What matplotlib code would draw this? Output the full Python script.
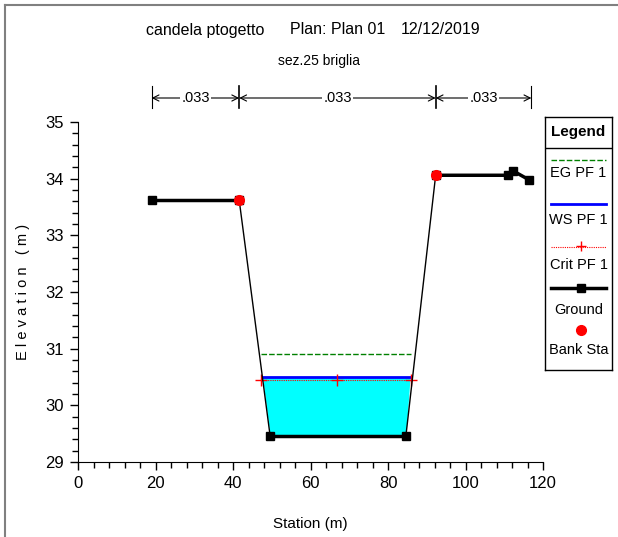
import matplotlib
matplotlib.use('Agg')
import matplotlib.pyplot as plt
from matplotlib import rcParams, ticker
from matplotlib.lines import Line2D

rcParams["font.family"] = ["Liberation Sans Narrow", "Liberation Sans", "DejaVu Sans"]
rcParams["font.size"] = 11

# cross-section data (station m, elevation m)
ground_sta = [19.0, 41.6, 49.6, 84.6, 92.3, 111.0, 112.2, 116.4]
ground_elev = [33.62, 33.62, 29.45, 29.45, 34.06, 34.06, 34.14, 33.98]
bank_sta = [41.6, 92.3]
bank_elev = [33.62, 34.06]

ws_elev = 30.50
ws_left, ws_right = 47.6, 85.7
crit_elev = 30.45
crit_sta = [47.3, 66.8, 86.0]
eg_elev = 30.90
eg_left, eg_right = 47.2, 86.0

n_breaks = [19.0, 41.6, 92.3, 117.0]
n_values = ['.033', '.033', '.033']

xticks = [0, 20, 40, 60, 80, 100, 120]
yticks = [29, 30, 31, 32, 33, 34, 35]

fig = plt.figure(figsize=(6.18, 5.37), dpi=100)
ax = fig.add_axes([78 / 618, 1 - 462 / 537, 465 / 618, 340 / 537])

# water fill between ground and WS
ax.fill_between([ws_left, ground_sta[2], ground_sta[3], ws_right],
                [ws_elev] * 4,
                [ws_elev, ground_elev[2], ground_elev[3], ws_elev],
                color='#00ffff', zorder=1, lw=0)

ax.plot([eg_left, eg_right], [eg_elev, eg_elev], color='green', lw=1, ls=(0, (4, 1.5)), zorder=3)
ax.plot([ws_left, ws_right], [ws_elev, ws_elev], color='blue', lw=2, zorder=3)
ax.plot(crit_sta, [crit_elev] * len(crit_sta), color='red', lw=0.8, ls=(0, (1, 1)),
        marker='+', ms=9, mew=1, zorder=4)

# ground: thin slopes, thick flat parts
ax.plot(ground_sta, ground_elev, color='black', lw=1, zorder=5)
ax.plot(ground_sta[0:2], ground_elev[0:2], color='black', lw=2.5, zorder=5)
ax.plot(ground_sta[2:4], ground_elev[2:4], color='black', lw=2.5, zorder=5)
ax.plot(ground_sta[4:], ground_elev[4:], color='black', lw=2.5, zorder=5)
ax.plot(ground_sta, ground_elev, ls='none', marker='s', ms=5.5, color='black', zorder=6)
ax.plot(bank_sta, bank_elev, ls='none', marker='o', ms=7, color='red', zorder=7)

ax.set_xlim(0, 120)
ax.set_ylim(29, 35)
ax.set_xticks(xticks)
ax.set_yticks(yticks)
ax.xaxis.set_minor_locator(ticker.MultipleLocator(4))
ax.yaxis.set_minor_locator(ticker.MultipleLocator(0.2))
ax.tick_params(which='major', length=6, width=1, direction='out', labelsize=12, pad=4)
ax.tick_params(which='minor', length=4, width=1, direction='out')
for s in ['top', 'right']:
    ax.spines[s].set_visible(False)
ax.set_xlabel('Station (m)', fontsize=11, labelpad=19)
ax.set_ylabel('E l e v a t i o n   ( m )', fontsize=10.5)
ax.yaxis.set_label_coords(-0.104, 0.5)

# Manning's n bars
tr = ax.get_xaxis_transform()
y_arrow = 1 + 24 / 340
for s in n_breaks:
    ax.add_line(Line2D([s, s], [1 + 14 / 340, 1 + 36 / 340], transform=tr, color='black',
                       lw=1.2 if s in n_breaks[1:3] else 0.8, clip_on=False))
for i, txt in enumerate(n_values):
    a, b = n_breaks[i], n_breaks[i + 1]
    mid = (a + b) / 2
    ax.annotate('', xy=(a, y_arrow), xytext=(mid - 4, y_arrow), xycoords=tr, textcoords=tr,
                arrowprops=dict(arrowstyle='->', lw=0.8, color='black', shrinkA=0, shrinkB=0),
                annotation_clip=False)
    ax.annotate('', xy=(b, y_arrow), xytext=(mid + 4, y_arrow), xycoords=tr, textcoords=tr,
                arrowprops=dict(arrowstyle='->', lw=0.8, color='black', shrinkA=0, shrinkB=0),
                annotation_clip=False)
    ax.text(mid, y_arrow, txt, transform=tr, ha='center', va='center', fontsize=10.5,
            bbox=dict(facecolor='white', edgecolor='none', pad=1), clip_on=False, zorder=10)

fig.text(205 / 618, 1 - 30 / 537, 'candela ptogetto', ha='center', va='center', fontsize=11.5)
fig.text(338 / 618, 1 - 30 / 537, 'Plan: Plan 01', ha='center', va='center', fontsize=11.5)
fig.text(441 / 618, 1 - 30 / 537, '12/12/2019', ha='center', va='center', fontsize=11.5)
fig.text(319 / 618, 1 - 61 / 537, 'sez.25 briglia', ha='center', va='center', fontsize=10)

# outer frame
fig.add_artist(Line2D([5 / 618, 5 / 618], [0, 1 - 5 / 537], color='gray', lw=1.5))
fig.add_artist(Line2D([5 / 618, 1], [1 - 5 / 537, 1 - 5 / 537], color='gray', lw=1.5))

# legend box
lg = fig.add_axes([545 / 618, 1 - 370 / 537, 67 / 618, 253 / 537])
lg.set_xlim(0, 67)
lg.set_ylim(253, 0)
lg.set_xticks([])
lg.set_yticks([])
for sp in lg.spines.values():
    sp.set_linewidth(1)
lg.axhline(31, color='black', lw=1)
fs = 10.5
lg.text(33.5, 15, 'Legend', ha='center', va='center', fontsize=11, fontweight='bold')
lg.plot([6, 61], [43, 43], color='green', lw=1, ls=(0, (4, 1.5)))
lg.text(33.5, 56, 'EG PF 1', ha='center', va='center', fontsize=fs)
lg.plot([6, 61], [87, 87], color='blue', lw=2)
lg.text(33.5, 103, 'WS PF 1', ha='center', va='center', fontsize=fs)
lg.plot([6, 61], [130, 130], color='red', lw=0.8, ls=(0, (1, 1)))
lg.plot([36], [129], marker='+', color='red', ms=7)
lg.text(33.5, 148, 'Crit PF 1', ha='center', va='center', fontsize=fs)
lg.plot([6, 61], [171, 171], color='black', lw=2.5)
lg.plot([36], [171], marker='s', color='black', ms=5.5)
lg.text(33.5, 193, 'Ground', ha='center', va='center', fontsize=fs)
lg.plot([36], [213], marker='o', color='red', ms=7)
lg.text(33.5, 233, 'Bank Sta', ha='center', va='center', fontsize=fs)

fig.savefig('out.png', dpi=100)
